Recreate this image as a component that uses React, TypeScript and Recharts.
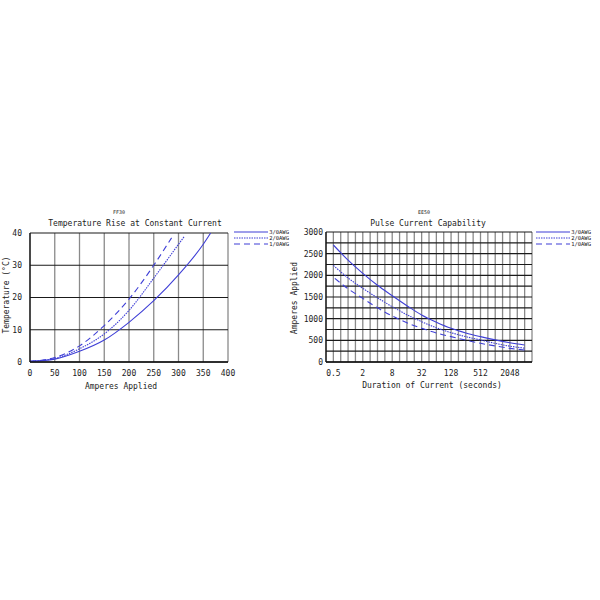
import React from 'react';
import { LineChart, Line, XAxis, YAxis, CartesianGrid } from 'recharts';

const FONT = '"DejaVu Sans Mono", monospace';
const BLUE = '#3f3fd6';

// Temperature rise vs amps
const TEMP_AMP_TICKS = [0, 50, 100, 150, 200, 250, 300, 350, 400];
const TEMP_TICKS = [0, 10, 20, 30, 40];
const TEMP_AMPS_3_0 = [0, 50, 100, 150, 200, 250, 300, 350, 365];
const TEMP_RISE_3_0 = [0.2, 0.9, 3.3, 6.8, 12.3, 19, 27, 36.5, 40];
const TEMP_AMPS_2_0 = [0, 50, 100, 150, 200, 250, 300, 312];
const TEMP_RISE_2_0 = [0.2, 1.1, 4.1, 8.7, 16, 26, 36.5, 39];
const TEMP_AMPS_1_0 = [0, 50, 100, 150, 200, 250, 286];
const TEMP_RISE_1_0 = [0.2, 1.4, 5, 11.3, 19.5, 30, 38.5];

// Pulse current vs duration (x = log2 of seconds)
const PULSE_LABELS_X = [-1, 1, 3, 5, 7, 9, 11];
const PULSE_LABELS_Y = [0, 500, 1000, 1500, 2000, 2500, 3000];
const PULSE_GRID_Y = [0, 250, 500, 750, 1000, 1250, 1500, 1750, 2000, 2250, 2500, 2750, 3000];
const PULSE_GRID_X = Array.from({ length: 29 }, (_, i) => -1.5 + i * 0.5);
const PULSE_LOG2_3_0 = [-1, 0, 1, 2, 3, 4, 5, 6, 7, 8, 9, 10, 11, 12];
const PULSE_AMPS_3_0 = [2700, 2350, 2046, 1770, 1531, 1300, 1085, 920, 777, 670, 585, 510, 446, 392];
const PULSE_LOG2_2_0 = [-1, 0, 1, 2, 3, 4, 5, 6, 7, 8, 9, 10, 11, 12];
const PULSE_AMPS_2_0 = [2230, 1940, 1700, 1480, 1277, 1090, 931, 790, 677, 585, 508, 430, 365, 320];
const PULSE_LOG2_1_0 = [-0.9, 0, 1, 2, 3, 4, 5, 6, 7, 8, 9, 10, 11, 12];
const PULSE_AMPS_1_0 = [1930, 1690, 1469, 1250, 1062, 905, 777, 670, 585, 505, 431, 370, 315, 277];

const SERIES = [
  { name: '3/0AWG', dash: undefined as string | undefined },
  { name: '2/0AWG', dash: '1.5 1' },
  { name: '1/0AWG', dash: '6 4' },
];

const zip = (xs: number[], ys: number[]) => xs.map((x, i) => ({ x, y: ys[i] }));

const tempData = [
  zip(TEMP_AMPS_3_0, TEMP_RISE_3_0),
  zip(TEMP_AMPS_2_0, TEMP_RISE_2_0),
  zip(TEMP_AMPS_1_0, TEMP_RISE_1_0),
];
const pulseData = [
  zip(PULSE_LOG2_3_0, PULSE_AMPS_3_0),
  zip(PULSE_LOG2_2_0, PULSE_AMPS_2_0),
  zip(PULSE_LOG2_1_0, PULSE_AMPS_1_0),
];

const tick = { fill: '#222', fontSize: 8, fontFamily: FONT };

const Text: React.FC<{ x: number; y: number; size: number; rotate?: boolean; children: React.ReactNode }> = ({ x, y, size, rotate, children }) => (
  <div
    style={{
      position: 'absolute', left: x, top: y, fontSize: size, lineHeight: `${size}px`, fontFamily: FONT,
      color: '#222', whiteSpace: 'nowrap',
      transform: `translate(-50%, -50%)${rotate ? ' rotate(-90deg)' : ''}`,
    }}
  >
    {children}
  </div>
);

const Key: React.FC<{ x: number; y: number }> = ({ x, y }) => (
  <svg style={{ position: 'absolute', left: x, top: y }} width={60} height={20}>
    {SERIES.map((s, i) => (
      <g key={s.name}>
        <line x1={1} x2={35} y1={3 + i * 6} y2={3 + i * 6} stroke={BLUE} strokeWidth={1.2} strokeDasharray={s.dash} />
        <text x={56} y={5 + i * 6} fontSize={5.5} fontFamily={FONT} textAnchor="end" fill="#222">{s.name}</text>
      </g>
    ))}
  </svg>
);

export default function App() {
  return (
    <div style={{ position: 'absolute', left: 0, top: 0, width: 600, height: 600, background: '#fff' }}>
      <div style={{ position: 'absolute', left: 0, top: 200 }}>
        <LineChart width={300} height={200} margin={{ top: 33, right: 72, left: 0, bottom: 8 }}>
          <CartesianGrid horizontal={false} stroke="#8a8a8a" strokeWidth={1.3} />
          <CartesianGrid vertical={false} stroke="#1a1a1a" strokeWidth={1.1} />
          <XAxis dataKey="x" type="number" domain={[0, 400]} ticks={TEMP_AMP_TICKS} interval={0} tick={tick}
            tickLine={false} axisLine={{ stroke: '#111', strokeWidth: 1.3 }} height={30} allowDataOverflow />
          <YAxis type="number" domain={[0, 40]} ticks={TEMP_TICKS} interval={0} tick={tick} width={30}
            tickLine={false} axisLine={{ stroke: '#111', strokeWidth: 1.3 }} allowDataOverflow />
          {SERIES.map((s, i) => (
            <Line key={s.name} data={tempData[i]} dataKey="y" type="monotone" stroke={BLUE} strokeWidth={1.1}
              strokeDasharray={s.dash} dot={false} isAnimationActive={false} />
          ))}
        </LineChart>
      </div>
      <Text x={119} y={212} size={5}>FF30</Text>
      <Text x={135} y={224} size={8}>Temperature Rise at Constant Current</Text>
      <Text x={121} y={387} size={8}>Amperes Applied</Text>
      <Text x={7} y={295} size={8} rotate>Temperature (°C)</Text>
      <Key x={233} y={229} />

      <div style={{ position: 'absolute', left: 290, top: 200 }}>
        <LineChart width={310} height={200} margin={{ top: 32, right: 68, left: 0, bottom: 8 }}>
          <CartesianGrid horizontal={false} stroke="#8a8a8a" strokeWidth={1.3} />
          <CartesianGrid vertical={false} stroke="#1a1a1a" strokeWidth={1.1} />
          <XAxis dataKey="x" type="number" domain={[-1.5, 12.5]} ticks={PULSE_GRID_X} interval={0} tick={tick}
            tickFormatter={(v: number) => (PULSE_LABELS_X.includes(v) ? String(Math.pow(2, v)) : '')} tickLine={false}
            axisLine={{ stroke: '#111', strokeWidth: 1.3 }} height={30} allowDataOverflow />
          <YAxis type="number" domain={[0, 3000]} ticks={PULSE_GRID_Y} interval={0} tick={tick} width={36}
            tickFormatter={(v: number) => (PULSE_LABELS_Y.includes(v) ? String(v) : '')}
            tickLine={false} tickSize={3} tickMargin={0} axisLine={{ stroke: '#111', strokeWidth: 1.3 }} allowDataOverflow />
          {SERIES.map((s, i) => (
            <Line key={s.name} data={pulseData[i]} dataKey="y" type="monotone" stroke={BLUE} strokeWidth={1.1}
              strokeDasharray={s.dash} dot={false} isAnimationActive={false} />
          ))}
        </LineChart>
      </div>
      <Text x={424} y={212} size={5}>EE50</Text>
      <Text x={428} y={224} size={8}>Pulse Current Capability</Text>
      <Text x={432} y={386} size={8}>Duration of Current (seconds)</Text>
      <Text x={295} y={298} size={8} rotate>Amperes Applied</Text>
      <Key x={535} y={229} />
    </div>
  );
}
